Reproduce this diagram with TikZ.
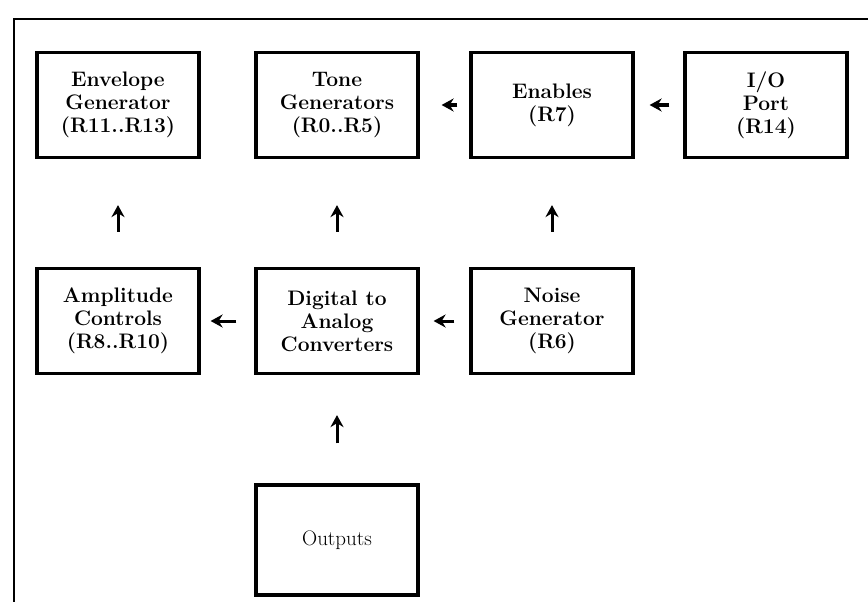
\documentclass[tikz,border=0pt]{standalone}
\usetikzlibrary{arrows.meta}
\begin{document}
\begin{tikzpicture}[x=1pt,y=-1pt,
  blk/.style={draw=black, line width=3.2pt, minimum width=162pt, minimum height=105pt,
    align=center, inner sep=2pt, font=\fontsize{21}{23}\selectfont\bfseries},
  arr/.style={line width=3pt, -{Stealth[length=12pt,width=13pt]}}]
\useasboundingbox (0,0) rectangle (868,602);
\fill[white] (0,0) rectangle (868,602);
% frame
\coordinate (f1) at (14,602);
\coordinate (f2) at (14,19);
\coordinate (f3) at (868,19);
\draw[line width=2.6pt] (f1) -- (f2) -- (f3);
% boxes
\node[blk] (env) at (118,105) {Envelope\\Generator\\(R11..R13)};
\node[blk] (tone) at (337,105) {Tone\\Generators\\(R0..R5)};
\node[blk] (ena) at (552,105) {Enables\\(R7)};
\node[blk] (io) at (766,105) {I/O\\Port\\(R14)};
\node[blk] (amp) at (118,321) {Amplitude\\Controls\\(R8..R10)};
\node[blk] (dac) at (337,321) {Digital to\\Analog\\Converters};
\node[blk] (noise) at (552,321) {Noise\\Generator\\(R6)};
\node[blk, minimum height=110pt, font=\fontsize{21}{23}\selectfont] (out) at (337,540) {Outputs};
% arrows
\draw[arr, shorten <=35pt, shorten >=46pt] (amp.north) -- (env.south);
\draw[arr, shorten <=35pt, shorten >=46pt] (dac.north) -- (tone.south);
\draw[arr, shorten <=35pt, shorten >=46pt] (noise.north) -- (ena.south);
\draw[arr, shorten <=40pt, shorten >=40pt] (out.north) -- (dac.south);
\draw[arr, shorten <=12pt, shorten >=22pt] (ena.west) -- (tone.east);
\draw[arr, shorten <=14pt, shorten >=15pt] (io.west) -- (ena.east);
\draw[arr, shorten <=18pt, shorten >=10pt] (dac.west) -- (amp.east);
\draw[arr, shorten <=15pt, shorten >=14pt] (noise.west) -- (dac.east);
\end{tikzpicture}
\end{document}
